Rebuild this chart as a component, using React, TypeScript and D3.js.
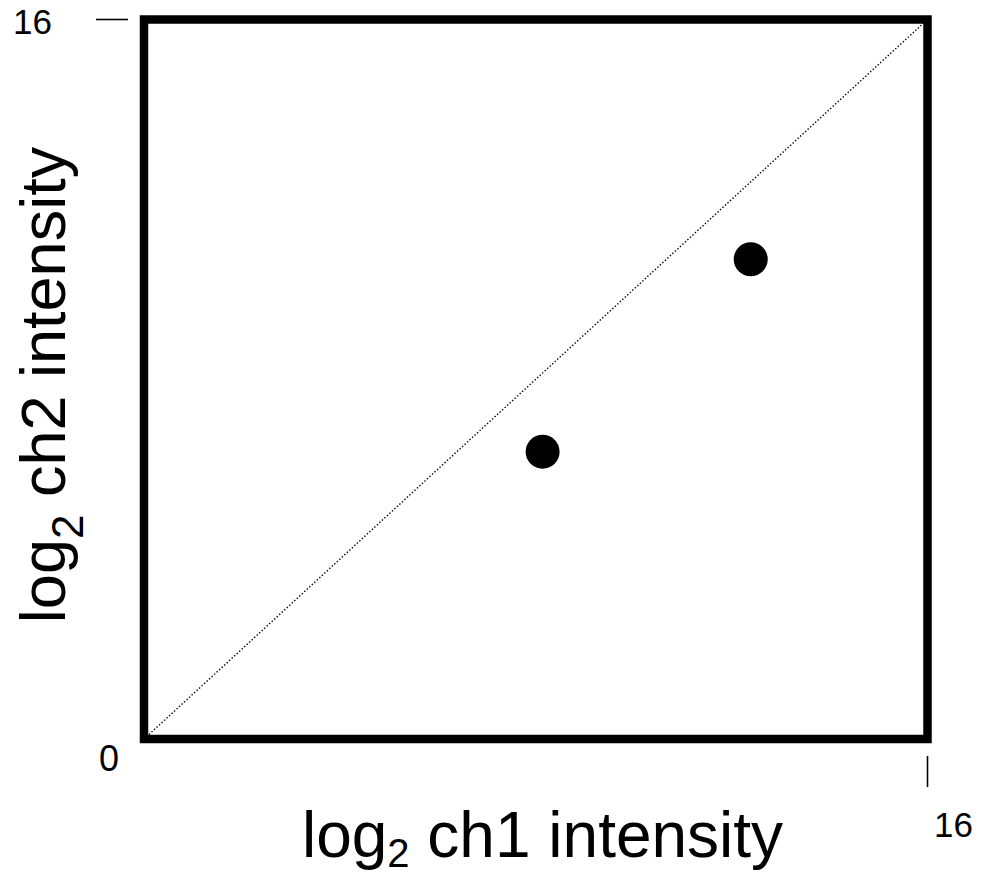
import React from "react";
import * as d3 from "d3";

const pointsX = [8.14, 12.39];
const pointsY = [6.39, 10.67];
const axisDomain = [0, 16];
const tickLabels = ["0", "16"];

const W = 986;
const H = 876;
const FONT = "'Liberation Sans', Arial, sans-serif";

export default function App() {
  const x = d3.scaleLinear().domain(axisDomain).range([144, 927.5]);
  const y = d3.scaleLinear().domain(axisDomain).range([739, 19.5]);
  const line = d3.line<number>().x((d) => x(d)).y((d) => y(d));
  const diag = line(axisDomain) || "";
  const pts = pointsX.map((v, i) => ({ x: v, y: pointsY[i] }));
  const xMin = axisDomain[0];
  const xMax = axisDomain[1];

  return (
    <svg width={W} height={H} style={{ position: "absolute", left: 0, top: 0, background: "#fff" }}>
      <rect x={0} y={0} width={W} height={H} fill="#fff" />
      <path d={diag} stroke="#000" strokeWidth={1.4} strokeDasharray="1.4,2" fill="none" />
      <rect
        x={x(xMin)}
        y={y(xMax)}
        width={x(xMax) - x(xMin)}
        height={y(xMin) - y(xMax)}
        fill="none"
        stroke="#000"
        strokeWidth={8.5}
      />
      {pts.map((p, i) => (
        <circle key={i} cx={x(p.x)} cy={y(p.y)} r={17} fill="#000" />
      ))}
      {/* y-axis top tick */}
      <line x1={96} x2={128} y1={y(xMax)} y2={y(xMax)} stroke="#000" strokeWidth={1.6} />
      <text x={32.5} y={34} fontSize={35} fontFamily={FONT} textAnchor="middle">{tickLabels[1]}</text>
      {/* origin label */}
      <text x={109} y={771} fontSize={36} fontFamily={FONT} textAnchor="middle">{tickLabels[0]}</text>
      {/* x-axis right tick */}
      <line x1={x(xMax)} x2={x(xMax)} y1={756} y2={787} stroke="#000" strokeWidth={1.6} />
      <text x={953.5} y={837} fontSize={35} fontFamily={FONT} textAnchor="middle">{tickLabels[1]}</text>
      {/* x label */}
      <text x={542.5} y={857} fontSize={64} fontFamily={FONT} textAnchor="middle">
        log<tspan fontSize={40} dy={10}>2</tspan><tspan dy={-10}> ch1 intensity</tspan>
      </text>
      {/* y label */}
      <text
        transform={`translate(65,385) rotate(-90)`}
        fontSize={63}
        fontFamily={FONT}
        textAnchor="middle"
      >
        log<tspan fontSize={44} dy={18}>2</tspan><tspan dy={-18}> ch2 intensity</tspan>
      </text>
    </svg>
  );
}
